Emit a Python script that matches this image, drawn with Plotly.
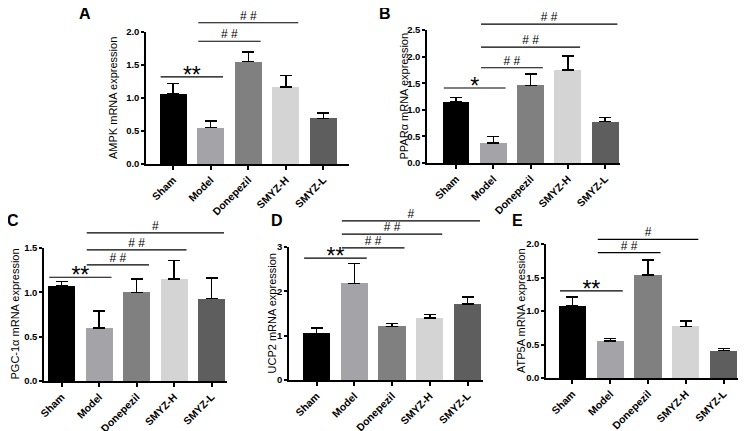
import plotly.graph_objects as go

# reference frame size; page body adds an 8px offset, so the figure is drawn smaller
REF_W, REF_H, OFF = 753, 431, 8
W, H = REF_W - OFF, REF_H - OFF
FONT = "Liberation Sans, Arial, sans-serif"

groups = ["Sham", "Model", "Donepezil", "SMYZ-H", "SMYZ-L"]
colors = ["#000000", "#a3a3a8", "#808080", "#d4d4d4", "#5e5e5e"]

ampk_mean = [1.06, 0.55, 1.55, 1.17, 0.69]
ampk_sem = [0.16, 0.10, 0.15, 0.17, 0.08]
ppara_mean = [1.15, 0.38, 1.46, 1.75, 0.78]
ppara_sem = [0.08, 0.12, 0.21, 0.26, 0.08]
pgc_mean = [1.07, 0.60, 1.00, 1.15, 0.93]
pgc_sem = [0.05, 0.19, 0.15, 0.21, 0.23]
ucp2_mean = [1.05, 2.18, 1.21, 1.40, 1.71]
ucp2_sem = [0.12, 0.45, 0.06, 0.08, 0.16]
atp5a_mean = [1.08, 0.55, 1.54, 0.77, 0.41]
atp5a_sem = [0.13, 0.04, 0.22, 0.08, 0.03]

# significance brackets: (from group, to group, label, height)
ampk_sig = [(0, 1, "**", 1.32), (1, 2, "# #", 1.86), (1, 3, "# #", 2.14)]
ppara_sig = [(0, 1, "*", 1.41), (1, 2, "# #", 1.79), (1, 3, "# #", 2.18), (1, 4, "# #", 2.61)]
pgc_sig = [(0, 1, "**", 1.17), (1, 2, "# #", 1.31), (1, 3, "# #", 1.48), (1, 4, "#", 1.67)]
ucp2_sig = [(0, 1, "**", 2.75), (1, 2, "# #", 2.98), (1, 3, "# #", 3.29), (1, 4, "#", 3.59)]
atp5a_sig = [(0, 1, "**", 1.30), (1, 2, "# #", 1.87), (1, 3, "#", 2.07)]

# panel layout in reference pixels: left, right, top, bottom of plot area
panels = [
    dict(letter="A", title="AMPK mRNA expression", mean=ampk_mean, sem=ampk_sem, sig=ampk_sig,
         ymax=2.0, dtick=0.5, fmt=".1f", box=(146, 349, 32, 164), xr=(-0.72, 4.68),
         lpos=(85, 13), tx=113),
    dict(letter="B", title="PPARα mRNA expression", mean=ppara_mean, sem=ppara_sem, sig=ppara_sig,
         ymax=2.5, dtick=0.5, fmt=".1f", box=(427, 620, 30, 163), xr=(-0.78, 4.4),
         lpos=(385, 13), tx=403),
    dict(letter="C", title="PGC-1α mRNA expression", mean=pgc_mean, sem=pgc_sem, sig=pgc_sig,
         ymax=1.5, dtick=0.5, fmt=".1f", box=(44, 227, 248, 381), xr=(-0.47, 4.41),
         lpos=(13, 221), tx=14),
    dict(letter="D", title="UCP2 mRNA expression", mean=ucp2_mean, sem=ucp2_sem, sig=ucp2_sig,
         ymax=3, dtick=1, fmt="d", box=(289, 483, 247, 380), xr=(-0.73, 4.41),
         lpos=(277, 221), tx=271),
    dict(letter="E", title="ATP5A mRNA expression", mean=atp5a_mean, sem=atp5a_sem, sig=atp5a_sig,
         ymax=2.0, dtick=0.5, fmt=".1f", box=(546, 738, 244, 378), xr=(-0.70, 4.38),
         lpos=(517, 221), tx=521),
]


def px_x(x):
    return (x - OFF) / W


def px_y(y):
    return 1 - (y - OFF) / H


fig = go.Figure()
annotations = []
xs = list(range(len(groups)))
N = len(panels)

for n, p in enumerate(panels, start=1):
    xa = "x" if n == 1 else f"x{n}"
    ya = "y" if n == 1 else f"y{n}"
    ys = f"y{n + N}"  # hidden axis with the same scale, taller, for brackets
    fig.add_trace(go.Bar(
        x=xs, y=p["mean"], width=0.72, xaxis=xa, yaxis=ya,
        marker=dict(color=colors, line=dict(width=0)),
        error_y=dict(type="data", array=p["sem"], arrayminus=[0] * len(xs), symmetric=False,
                     color="black", thickness=1.5, width=6),
        showlegend=False, hoverinfo="skip",
    ))
    for i, j, lab, h in p["sig"]:
        x0, x1 = i - 0.33, j + 0.33
        fig.add_trace(go.Scatter(
            x=[x0, x1], y=[h, h], mode="lines", xaxis=xa, yaxis=ys,
            line=dict(color="black", width=1.2), showlegend=False, hoverinfo="skip",
        ))
        star = "*" in lab
        fig.add_trace(go.Scatter(
            x=[(x0 + x1) / 2], y=[h], mode="text", text=[lab], xaxis=xa, yaxis=ys,
            cliponaxis=False, textposition="middle center" if star else "top center",
            textfont=dict(family=FONT, size=23 if star else 12, color="black"),
            showlegend=False, hoverinfo="skip",
        ))

    l, r, t, b = p["box"]
    scale = (b - t) / p["ymax"]  # px per unit
    ytop = max(s[3] for s in p["sig"]) + 14 / scale
    top_px = max(b - ytop * scale, OFF)
    ytop = (b - top_px) / scale

    sfx = "" if n == 1 else str(n)
    fig.layout[f"xaxis{sfx}"] = dict(
        domain=[px_x(l), px_x(r)], anchor=ya, range=list(p["xr"]),
        tickvals=xs, ticktext=groups, tickangle=-45,
        tickfont=dict(family=FONT, size=10.5, color="black", weight="bold"),
        showline=True, linecolor="black", linewidth=1.5,
        ticks="outside", ticklen=4, tickwidth=1.5, tickcolor="black",
        showgrid=False, zeroline=False, fixedrange=True, automargin=False,
    )
    fig.layout[f"yaxis{sfx}"] = dict(
        domain=[px_y(b), px_y(t)], anchor=xa, range=[0, p["ymax"]],
        dtick=p["dtick"], tickformat=p["fmt"],
        tickfont=dict(family=FONT, size=9.5, color="black", weight="bold"),
        showline=True, linecolor="black", linewidth=1.5,
        ticks="outside", ticklen=3, tickwidth=1.5, tickcolor="black",
        showgrid=False, zeroline=False, fixedrange=True, automargin=False,
    )
    fig.layout[f"yaxis{n + N}"] = dict(
        domain=[px_y(b), px_y(top_px)], anchor=xa, range=[0, ytop],
        visible=False, fixedrange=True,
    )
    annotations.append(dict(
        text=p["letter"], x=px_x(p["lpos"][0]), y=px_y(p["lpos"][1]), xref="paper", yref="paper",
        showarrow=False, xanchor="center", yanchor="middle",
        font=dict(family=FONT, size=16, color="black", weight="bold"),
    ))
    annotations.append(dict(
        text=p["title"], x=px_x(p["tx"]), y=px_y((t + b) / 2), xref="paper", yref="paper",
        showarrow=False, textangle=-90, xanchor="center", yanchor="middle",
        font=dict(family=FONT, size=11, color="black"),
    ))

fig.update_layout(
    width=W, height=H, margin=dict(l=0, r=0, t=0, b=0, autoexpand=False),
    paper_bgcolor="white", plot_bgcolor="rgba(0,0,0,0)",
    annotations=annotations, bargap=0,
)

fig.write_html("out.html")
